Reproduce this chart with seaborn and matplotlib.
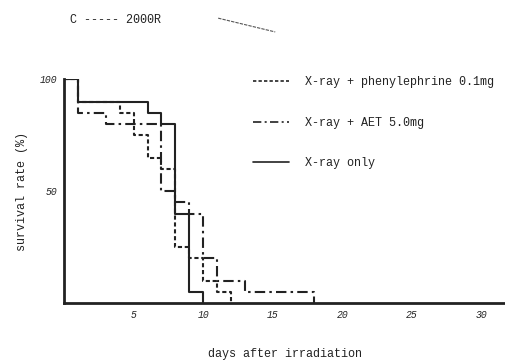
import matplotlib
matplotlib.use("Agg")
import matplotlib.pyplot as plt
import seaborn as sns
import pandas as pd
from matplotlib.lines import Line2D

# ---- data ----
days_phenyl = [0, 1, 4, 5, 6, 7, 8, 9, 10, 11, 12]
surv_phenyl = [100, 90, 85, 75, 65, 60, 25, 20, 10, 5, 0]

days_aet = [0, 1, 3, 7, 8, 9, 10, 11, 13, 18]
surv_aet = [100, 85, 80, 50, 45, 40, 20, 10, 5, 0]

days_xray = [0, 1, 6, 7, 8, 9, 10]
surv_xray = [100, 90, 85, 80, 40, 5, 0]

labels = ["X-ray + phenylephrine 0.1mg", "X-ray + AET 5.0mg", "X-ray only"]
x_ticks = [5, 10, 15, 20, 25, 30]
y_tick_labels = {100: "100", 50: "50"}

frames = []
for lab, d, s in zip(labels, [days_phenyl, days_aet, days_xray],
                     [surv_phenyl, surv_aet, surv_xray]):
    frames.append(pd.DataFrame({"day": d, "survival": s, "group": lab}))
df = pd.concat(frames, ignore_index=True)

sns.set_theme(style="white")
plt.rcParams["font.family"] = ["Liberation Mono", "DejaVu Sans Mono"]
ink = "#222222"

fig = plt.figure(figsize=(5.05, 3.63), dpi=100)
ax = fig.add_axes([0.127, 0.165, 0.873, 0.617])

dash_map = {labels[0]: (2, 1.3), labels[1]: (5, 2, 1.2, 2), labels[2]: ""}
sns.lineplot(data=df, x="day", y="survival", style="group", dashes=dash_map,
             color=ink, linewidth=1.5, drawstyle="steps-post",
             estimator=None, ax=ax, legend=False)

ax.set_xlim(0, 31.7)
ax.set_ylim(0, 100)
ax.set_xticks(x_ticks)
ax.set_xticklabels([str(t) for t in x_ticks], fontsize=7, style="italic", color=ink)
ax.set_yticks(list(range(10, 101, 10)))
ax.set_yticklabels([y_tick_labels.get(v, "") for v in range(10, 101, 10)],
                   fontsize=7, style="italic", color=ink)
ax.tick_params(axis="both", direction="out", length=3, width=1, color=ink, pad=2)
for sp in ["top", "right"]:
    ax.spines[sp].set_visible(False)
for sp in ["left", "bottom"]:
    ax.spines[sp].set_color(ink)
    ax.spines[sp].set_linewidth(2)

ax.set_xlabel("days after irradiation", fontsize=8.5, color=ink, labelpad=20)
ax.set_ylabel("survival rate (%)", fontsize=8.5, color=ink, labelpad=8)

handles = [Line2D([], [], color=ink, lw=1.2, dashes=(2, 1.3)),
           Line2D([], [], color=ink, lw=1.2, dashes=(5, 2, 1.2, 2)),
           Line2D([], [], color=ink, lw=1.2)]
leg = ax.legend(handles, labels, loc="upper left", bbox_to_anchor=(0.405, 1.06),
                frameon=False, fontsize=8.5, handlelength=3.0, labelspacing=2.4,
                handletextpad=1.4)
for t in leg.get_texts():
    t.set_color(ink)

fig.text(0.138, 0.945, "C ----- 2000R", fontsize=8.5, color=ink, va="center")
fig.add_artist(Line2D([0.432, 0.545], [0.95, 0.912], transform=fig.transFigure,
                      color="#555555", lw=0.8, dashes=(3, 1)))

fig.savefig("out.png", dpi=100)
